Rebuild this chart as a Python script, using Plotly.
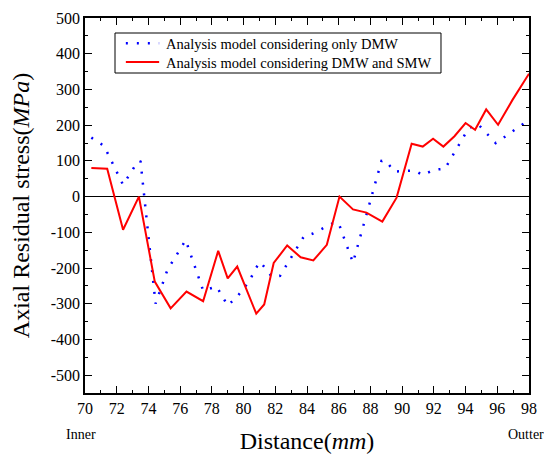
import plotly.graph_objects as go

# Blue dotted series: analysis model considering only DMW
x_dmw = [70.4, 71.2, 72.4, 73.1, 73.5, 74.45, 75.2, 76.35, 77.45, 78.3, 79.0, 79.6,
         80.4, 80.7, 81.05, 81.8, 82.3, 83.8, 84.4, 85.7, 86.0, 86.9, 88.7, 89.0,
         89.5, 90.8, 91.3, 92.0, 92.7, 94.2, 94.8, 95.9, 96.4, 98.0]
y_dmw = [165, 142, 33, 82, 100, -300, -205, -122, -263, -252, -305, -280,
         -235, -205, -183, -225, -222, -112, -103, -73, -75, -185, 100, 99,
         70, 73, 60, 75, 78, 192, 202, 150, 165, 215]

# Red solid series: analysis model considering DMW and SMW
x_smw = [70.4, 71.4, 72.4, 73.4, 74.4, 75.4, 76.4, 77.45, 78.4, 79.0, 79.6, 80.8,
         81.3, 81.9, 82.75, 83.6, 84.4, 85.25, 86.05, 86.9, 87.75, 88.75, 89.65, 90.6,
         91.3, 91.95, 92.6, 93.3, 94.0, 94.6, 95.3, 96.05, 96.95, 98.0]
y_smw = [80, 78, -93, 0, -238, -313, -266, -293, -152, -229, -196, -328,
         -302, -186, -137, -170, -179, -135, 0, -36, -45, -70, -3, 148,
         140, 162, 140, 169, 206, 187, 244, 201, 270, 344]

series_names = ["Analysis model considering only DMW",
                "Analysis model considering DMW and SMW"]

x_ticks = list(range(70, 99, 2))
y_ticks = list(range(-500, 501, 100))

font_family = "Liberation Serif"
BLUE_DASH = "2px,9px"

fig = go.Figure()
fig.add_trace(go.Scatter(
    x=x_dmw, y=y_dmw, mode="lines", name=series_names[0],
    line=dict(color="#0000ff", width=2.5, dash=BLUE_DASH),
))
fig.add_trace(go.Scatter(
    x=x_smw, y=y_smw, mode="lines", name=series_names[1],
    line=dict(color="#ff0000", width=2),
))

axis_common = dict(
    showline=True, linecolor="black", linewidth=1.5, mirror="ticks",
    ticks="inside", ticklen=7, tickwidth=1.2, tickcolor="black",
    showgrid=False, automargin=False,
    tickfont=dict(family=font_family, size=16, color="black"),
)

fig.update_xaxes(
    range=[70, 98], tickvals=x_ticks, ticktext=[str(v) for v in x_ticks],
    minor=dict(ticks="inside", ticklen=3, dtick=1, tick0=70, tickcolor="black"),
    zeroline=False,
    title=dict(text="Distance(<i>mm</i>)", font=dict(family=font_family, size=24, color="black"),
               standoff=16),
    **axis_common,
)
fig.update_yaxes(
    range=[-550, 500], tickvals=y_ticks, ticktext=[str(v) for v in y_ticks],
    minor=dict(ticks="inside", ticklen=3, dtick=50, tick0=0, tickcolor="black"),
    zeroline=True, zerolinecolor="black", zerolinewidth=1.2,
    title=dict(text="Axial Residual stress(<i>MPa</i>)",
               font=dict(family=font_family, size=24, color="black"), standoff=14),
    **axis_common,
)

# Hand-drawn legend box (paper coordinates)
legend_shapes = [
    dict(type="rect", xref="paper", yref="paper", x0=0.0676, x1=0.8018, y0=0.8533, y1=0.96,
         line=dict(color="black", width=1), fillcolor="white", layer="above"),
    dict(type="line", xref="paper", yref="paper", x0=0.092, x1=0.167, y0=0.933, y1=0.933,
         line=dict(color="#0000ff", width=2.5, dash=BLUE_DASH)),
    dict(type="line", xref="paper", yref="paper", x0=0.092, x1=0.167, y0=0.8827, y1=0.8827,
         line=dict(color="#ff0000", width=2)),
]
legend_texts = [
    dict(x=0.178, y=0.930, xref="paper", yref="paper", text=series_names[0], showarrow=False,
         xanchor="left", yanchor="middle",
         font=dict(family=font_family, size=14.5, color="black")),
    dict(x=0.178, y=0.880, xref="paper", yref="paper", text=series_names[1], showarrow=False,
         xanchor="left", yanchor="middle",
         font=dict(family=font_family, size=14.5, color="black")),
]

fig.update_layout(
    width=544, height=451,
    margin=dict(l=77, r=23, t=10, b=66),
    paper_bgcolor="white", plot_bgcolor="white",
    font=dict(family=font_family, color="black"),
    showlegend=False,
    shapes=legend_shapes,
    annotations=legend_texts + [
        dict(x=-0.008, y=-0.11, xref="paper", yref="paper", text="Inner", showarrow=False,
             xanchor="center", yanchor="middle",
             font=dict(family=font_family, size=14, color="black")),
        dict(x=0.993, y=-0.11, xref="paper", yref="paper", text="Outter", showarrow=False,
             xanchor="center", yanchor="middle",
             font=dict(family=font_family, size=14, color="black")),
    ],
)

fig.write_html("out.html")
